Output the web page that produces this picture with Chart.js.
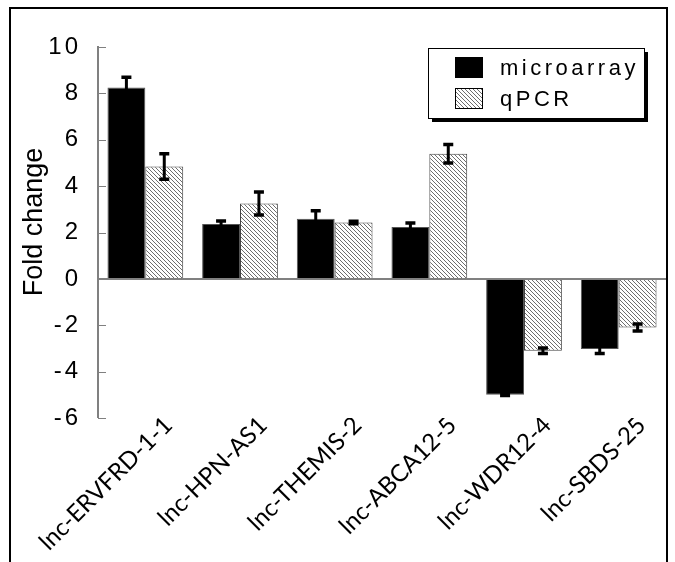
<!DOCTYPE html>
<html>
<head>
<meta charset="utf-8">
<script src="https://cdn.jsdelivr.net/npm/chart.js@4"></script>
<style>
  html, body { margin: 0; padding: 0; background: #fff; }
  #wrap { width: 675px; height: 562px; }
</style>
</head>
<body>
<div id="wrap"><canvas id="foldChart" width="675" height="562"></canvas></div>
<script>
// Datos del gráfico
const genes = ['lnc-ERVFRD-1-1', 'lnc-HPN-AS1', 'lnc-THEMIS-2', 'lnc-ABCA12-5', 'lnc-WDR12-4', 'lnc-SBDS-25'];
const microarray = [8.25, 2.37, 2.59, 2.24, -5.0, -3.02];
const microarrayErr = [0.45, 0.13, 0.35, 0.17, 0.03, 0.2];
const qpcr = [4.85, 3.25, 2.43, 5.4, -3.1, -2.1];
const qpcrErr = [0.55, 0.5, 0.05, 0.4, 0.12, 0.15];
const yTicks = [10, 8, 6, 4, 2, 0, -2, -4, -6];
const yTitle = 'Fold change';

// Patrón rayado para qPCR
function makeHatch() {
    const c = document.createElement('canvas');
    c.width = 4;
    c.height = 4;
    const g = c.getContext('2d');
    g.fillStyle = '#ffffff';
    g.fillRect(0, 0, 4, 4);
    g.fillStyle = '#6e6e6e';
    for (let i = 0; i < 4; i++) {
        g.fillRect(i, i, 1, 1);
    }
    return g.createPattern(c, 'repeat');
}
const hatch = makeHatch();

// Barras de error (y espaciado de letras para las etiquetas del eje Y)
const errorBars = {
    id: 'errorBars',
    afterDatasetsDraw(chart) {
        const ctx = chart.ctx;
        const y = chart.scales.y;
        const errs = [microarrayErr, qpcrErr];
        chart.data.datasets.forEach((ds, di) => {
            const meta = chart.getDatasetMeta(di);
            meta.data.forEach((bar, i) => {
                const v = ds.data[i];
                const e = errs[di][i];
                const top = y.getPixelForValue(v + e);
                const bot = y.getPixelForValue(v - e);
                ctx.save();
                ctx.strokeStyle = '#000';
                ctx.lineWidth = 3;
                ctx.beginPath();
                ctx.moveTo(bar.x, top);
                ctx.lineTo(bar.x, bot);
                ctx.stroke();
                ctx.lineWidth = 3.5;
                ctx.beginPath();
                ctx.moveTo(bar.x - 5, top);
                ctx.lineTo(bar.x + 5, top);
                ctx.moveTo(bar.x - 5, bot);
                ctx.lineTo(bar.x + 5, bot);
                ctx.stroke();
                ctx.restore();
            });
        });
        // las etiquetas del eje Y (z: 1) se dibujan después
        ctx.letterSpacing = '3px';
    }
};

// Marcas interiores del eje Y, título, leyenda y marco
const decorations = {
    id: 'decorations',
    beforeDraw(chart) {
        const ctx = chart.ctx;
        ctx.letterSpacing = '0px';
        ctx.save();
        ctx.strokeStyle = '#000';
        ctx.lineWidth = 2;
        ctx.strokeRect(10, 8, 657, 600);
        ctx.restore();
    },
    afterDraw(chart) {
        const ctx = chart.ctx;
        const y = chart.scales.y;
        const left = chart.chartArea.left;
        ctx.letterSpacing = '0px';
        ctx.save();
        ctx.strokeStyle = '#808080';
        ctx.lineWidth = 1;
        yTicks.forEach(t => {
            const py = Math.round(y.getPixelForValue(t)) + 0.5;
            ctx.beginPath();
            ctx.moveTo(left, py);
            ctx.lineTo(left + 8, py);
            ctx.stroke();
        });

        // Título del eje Y
        ctx.save();
        ctx.translate(35, 222);
        ctx.rotate(-Math.PI / 2);
        ctx.font = '27px "Liberation Sans", Arial, sans-serif';
        ctx.fillStyle = '#000';
        ctx.textAlign = 'center';
        ctx.textBaseline = 'middle';
        ctx.fillText(yTitle, 0, 0);
        ctx.restore();

        // Leyenda
        const bx = 428, by = 48, bw = 216, bh = 70;
        ctx.fillStyle = '#000';
        ctx.fillRect(bx + 4, by + 4, bw, bh);
        ctx.fillStyle = '#fff';
        ctx.fillRect(bx, by, bw, bh);
        ctx.strokeStyle = '#000';
        ctx.lineWidth = 1;
        ctx.strokeRect(bx + 0.5, by + 0.5, bw, bh);
        ctx.font = '22px "Liberation Sans", Arial, sans-serif';
        ctx.letterSpacing = '3.5px';
        ctx.textBaseline = 'alphabetic';
        chart.data.datasets.forEach((ds, i) => {
            const sy = 57 + i * 31;
            ctx.fillStyle = ds.backgroundColor;
            ctx.fillRect(455, sy, 27, 20);
            ctx.strokeStyle = '#000';
            ctx.strokeRect(455.5, sy + 0.5, 27, 20);
            ctx.fillStyle = '#000';
            ctx.fillText(ds.label, 500, sy + 18);
        });
        ctx.restore();
        ctx.letterSpacing = '0px';
    }
};

new Chart(document.getElementById('foldChart'), {
    type: 'bar',
    data: {
        labels: genes,
        datasets: [
            {
                label: 'microarray',
                data: microarray,
                backgroundColor: '#000000',
                borderColor: '#555555',
                borderWidth: 1
            },
            {
                label: 'qPCR',
                data: qpcr,
                backgroundColor: hatch,
                borderColor: '#444444',
                borderWidth: 1
            }
        ]
    },
    options: {
        responsive: false,
        animation: false,
        devicePixelRatio: 1,
        layout: { padding: { left: 10, top: 47, right: 9, bottom: 0 } },
        categoryPercentage: 0.8,
        barPercentage: 1.0,
        scales: {
            x: {
                grid: { display: false },
                border: { display: false },
                ticks: {
                    autoSkip: false,
                    minRotation: 45,
                    maxRotation: 45,
                    labelOffset: 23,
                    padding: -15,
                    color: '#000',
                    font: { family: 'Lato', size: 24 }
                },
                afterFit(s) { s.height = 144; }
            },
            y: {
                min: -6,
                max: 10,
                border: { display: true, color: '#808080', width: 2 },
                grid: {
                    drawTicks: false,
                    color: c => (c.tick && c.tick.value === 0 ? '#808080' : 'rgba(0,0,0,0)'),
                    lineWidth: c => (c.tick && c.tick.value === 0 ? 2 : 0)
                },
                ticks: {
                    stepSize: 2,
                    padding: 17,
                    z: 1,
                    color: '#000',
                    font: { family: '"Liberation Sans", Arial', size: 24 }
                },
                afterFit(s) { s.width = 88; }
            }
        },
        plugins: {
            legend: { display: false },
            tooltip: { enabled: false }
        }
    },
    plugins: [errorBars, decorations]
});
</script>
</body>
</html>
